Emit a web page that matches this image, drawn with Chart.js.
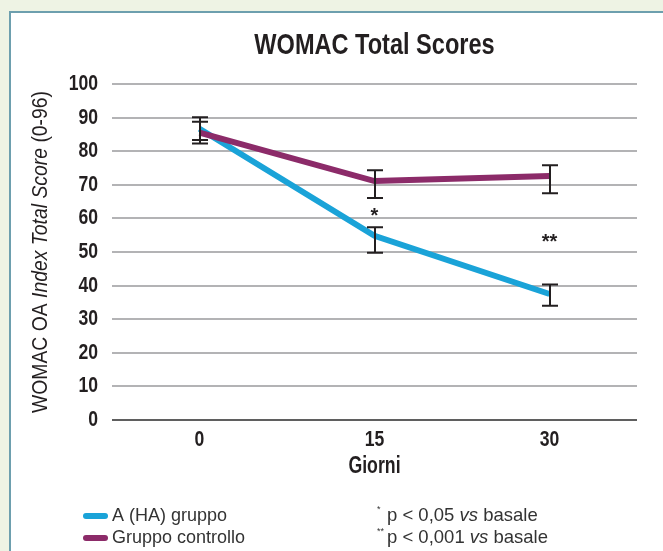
<!DOCTYPE html>
<html>
<head>
<meta charset="utf-8">
<script src="https://cdn.jsdelivr.net/npm/chart.js@4/dist/chart.umd.min.js"></script>
<style>
  html, body { margin: 0; padding: 0; background: #eef3e4; }
  canvas { display: block; }
</style>
</head>
<body>
<canvas id="chart" width="663" height="551"></canvas>
<script>
// Days of follow-up
const days = ['0', '15', '30'];

// A (HA) group: mean score and error-bar limits
const haValues = [86.7, 54.8, 37.5];
const haUpper  = [90.1, 57.4, 40.3];
const haLower  = [83.3, 49.8, 34.0];

// Control group: mean score and error-bar limits
const ctrlValues = [85.5, 71.1, 72.6];
const ctrlUpper  = [88.8, 74.3, 75.8];
const ctrlLower  = [82.3, 66.1, 67.5];

// Significance markers per day (vs baseline)
const significance = ['', '*', '**'];

const seriesNames = ['A (HA) gruppo', 'Gruppo controllo'];
const footnoteMarks = ['*', '**'];
const footnoteTexts = [['p < 0,05 ', 'vs', ' basale'], ['p < 0,001 ', 'vs', ' basale']];

const chartTitle = 'WOMAC Total Scores';
const yTitleParts = [['WOMAC OA ', false], ['Index Total Score', true], [' (0-96)', false]];
const xTitle = 'Giorni';

const BLUE = '#1aa3d8';
const PURPLE = '#8c2b69';
const INK = '#231f20';
const SANS = '"Liberation Sans", Arial, sans-serif';

// Text in a horizontally condensed face (Liberation Sans squeezed in x)
function condensed(ctx, text, x, y, font, sx, align) {
  ctx.save();
  ctx.font = font;
  ctx.textAlign = align || 'center';
  ctx.textBaseline = 'middle';
  ctx.translate(x, y);
  ctx.scale(sx, 1);
  ctx.fillText(text, 0, 0);
  ctx.restore();
}

// Frame: light green page with a white bordered panel
const framePlugin = {
  id: 'frame',
  beforeDraw(chart) {
    const { ctx, width, height } = chart;
    ctx.save();
    ctx.fillStyle = '#eef3e4';
    ctx.fillRect(0, 0, width, height);
    ctx.fillStyle = '#ffffff';
    ctx.fillRect(10, 12, width - 10, height - 12);
    ctx.fillStyle = '#6d9fae';
    ctx.fillRect(9, 11, 2, height - 11);
    ctx.fillRect(9, 11, width - 9, 2);
    ctx.restore();
  }
};

// Tick labels for both axes, taken from the chart's own scales
const tickLabelPlugin = {
  id: 'tickLabels',
  afterDraw(chart) {
    const { ctx, scales: { x, y } } = chart;
    ctx.save();
    ctx.fillStyle = INK;
    const font = 'bold 22px ' + SANS;
    y.ticks.forEach(t => {
      condensed(ctx, String(t.value), y.right - 14, y.getPixelForValue(t.value), font, 0.8, 'right');
    });
    x.getLabels().forEach((lab, i) => {
      condensed(ctx, lab, x.getPixelForValue(i), x.top + 20, font, 0.8, 'center');
    });
    ctx.restore();
  }
};

// Error bars and significance markers
const errorBarPlugin = {
  id: 'errorBars',
  afterDatasetsDraw(chart) {
    const { ctx, scales: { x, y } } = chart;
    const sets = [[haUpper, haLower], [ctrlUpper, ctrlLower]];
    ctx.save();
    ctx.strokeStyle = INK;
    ctx.lineWidth = 2;
    sets.forEach(([up, lo]) => {
      up.forEach((u, i) => {
        const px = Math.round(x.getPixelForValue(i));
        const yt = y.getPixelForValue(u);
        const yb = y.getPixelForValue(lo[i]);
        ctx.beginPath();
        ctx.moveTo(px, yt); ctx.lineTo(px, yb);
        ctx.moveTo(px - 8, yt); ctx.lineTo(px + 8, yt);
        ctx.moveTo(px - 8, yb); ctx.lineTo(px + 8, yb);
        ctx.stroke();
      });
    });
    ctx.fillStyle = INK;
    ctx.font = 'bold 20px ' + SANS;
    ctx.textAlign = 'center';
    ctx.textBaseline = 'middle';
    significance.forEach((mark, i) => {
      if (!mark) return;
      const px = x.getPixelForValue(i);
      const py = y.getPixelForValue((ctrlLower[i] + haUpper[i]) / 2);
      ctx.fillText(mark, px, py + 4);
    });
    ctx.restore();
  }
};

// Title, axis titles and the legend with footnotes
const textPlugin = {
  id: 'texts',
  afterDraw(chart) {
    const { ctx, chartArea } = chart;
    ctx.save();
    ctx.fillStyle = INK;

    const midX = (chartArea.left + chartArea.right) / 2;
    condensed(ctx, chartTitle, midX, 46, 'bold 30px ' + SANS, 0.785, 'center');
    condensed(ctx, xTitle, midX, 467, 'bold 23px ' + SANS, 0.77, 'center');

    // rotated y-axis title with an italic middle part
    ctx.save();
    ctx.translate(41, (chartArea.top + chartArea.bottom) / 2);
    ctx.rotate(-Math.PI / 2);
    ctx.scale(0.88, 1);
    ctx.textBaseline = 'middle';
    const fontFor = it => (it ? 'italic ' : '') + '22px ' + SANS;
    let total = 0;
    yTitleParts.forEach(([t, it]) => { ctx.font = fontFor(it); total += ctx.measureText(t).width; });
    let cx = -total / 2;
    ctx.textAlign = 'left';
    yTitleParts.forEach(([t, it]) => {
      ctx.font = fontFor(it);
      ctx.fillText(t, cx, 0);
      cx += ctx.measureText(t).width;
    });
    ctx.restore();

    // legend
    const colors = [BLUE, PURPLE];
    const rows = [516, 538];
    ctx.textAlign = 'left';
    ctx.textBaseline = 'middle';
    seriesNames.forEach((name, i) => {
      ctx.strokeStyle = colors[i];
      ctx.lineWidth = 6;
      ctx.lineCap = 'round';
      ctx.beginPath();
      ctx.moveTo(86, rows[i]); ctx.lineTo(105, rows[i]);
      ctx.stroke();
      ctx.fillStyle = '#333333';
      ctx.font = '18px ' + SANS;
      ctx.fillText(name, 112, rows[i]);
    });

    // footnotes
    footnoteTexts.forEach((parts, i) => {
      ctx.font = '9px ' + SANS;
      ctx.fillText(footnoteMarks[i], 377, rows[i] - 6);
      let fx = 387;
      parts.forEach((t, k) => {
        ctx.font = (k === 1 ? 'italic ' : '') + '18.5px ' + SANS;
        ctx.fillText(t, fx, rows[i]);
        fx += ctx.measureText(t).width;
      });
    });
    ctx.restore();
  }
};

new Chart(document.getElementById('chart'), {
  type: 'line',
  data: {
    labels: days,
    datasets: [
      {
        label: seriesNames[0],
        data: haValues,
        borderColor: BLUE,
        borderWidth: 6,
        pointRadius: 0,
        tension: 0,
        order: 1
      },
      {
        label: seriesNames[1],
        data: ctrlValues,
        borderColor: PURPLE,
        borderWidth: 6,
        pointRadius: 0,
        tension: 0,
        order: 0
      }
    ]
  },
  options: {
    responsive: false,
    animation: false,
    events: [],
    layout: { padding: { left: 0, right: 26, top: 84, bottom: 0 } },
    plugins: {
      legend: { display: false },
      title: { display: false },
      tooltip: { enabled: false }
    },
    scales: {
      x: {
        offset: true,
        grid: { display: false },
        border: { display: false },
        ticks: { display: false },
        afterFit(scale) { scale.height = 131; }
      },
      y: {
        min: 0,
        max: 100,
        ticks: { stepSize: 10, display: false },
        grid: {
          drawTicks: false,
          lineWidth: 2,
          color: ctx => (ctx.tick && ctx.tick.value === 0 ? '#5f5f5f' : '#b3b3b5')
        },
        border: { display: false },
        afterFit(scale) { scale.width = 112; }
      }
    }
  },
  plugins: [framePlugin, tickLabelPlugin, errorBarPlugin, textPlugin]
});
</script>
</body>
</html>
